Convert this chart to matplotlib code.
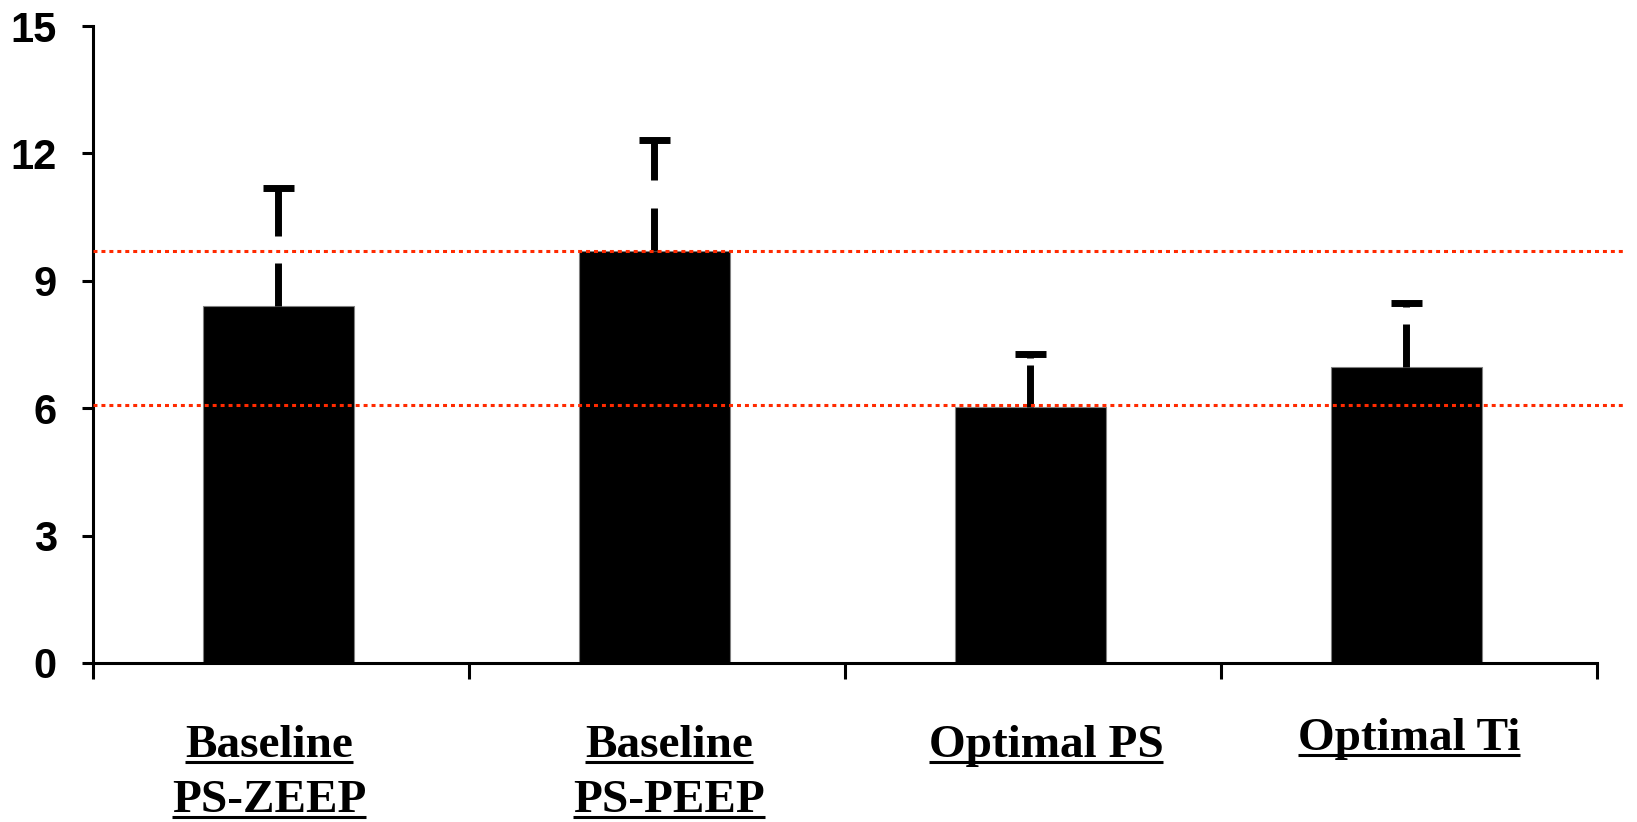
import matplotlib
matplotlib.use('Agg')
import matplotlib.pyplot as plt
from matplotlib.transforms import IdentityTransform
from matplotlib.lines import Line2D
import numpy as np

# ---- data ----
categories = ["Baseline\nPS-ZEEP", "Baseline\nPS-PEEP", "Optimal PS", "Optimal Ti"]
means = [8.40, 9.70, 6.02, 6.98]
errors = [2.78, 2.61, 1.25, 1.49]
err_gaps = [(9.42, 10.06), (10.72, 11.38), (7.02, 7.19), (7.98, 8.39)]
ref_lines = [9.69, 6.08]
yticks = [0, 3, 6, 9, 12, 15]

# ---- layout ----
W, H = 1637, 822
fig = plt.figure(figsize=(W / 100, H / 100), dpi=100)
ax = fig.add_axes([93 / W, 1 - 663 / H, (1597 - 93) / W, (663 - 26) / H])

x = np.arange(len(categories)) - 0.007
ax.bar(x, means, width=0.40, color='black', edgecolor='#808080',
       linewidth=0.8, zorder=2)

for xi, m, e, (g0, g1) in zip(x, means, errors, err_gaps):
    top = m + e
    ax.vlines(xi, m, g0, color='black', lw=5.0, zorder=3, capstyle='butt')
    ax.vlines(xi, g1, top, color='black', lw=5.0, zorder=3, capstyle='butt')
    ax.hlines(top, xi - 0.041, xi + 0.041, color='black', lw=5.0, zorder=3,
              capstyle='butt')

for yv in ref_lines:
    ax.plot([-0.5, 3.57], [yv, yv], color='#ff2a00', lw=2.2,
            linestyle=(0, (1.3, 1.3)), dash_capstyle='butt', clip_on=False,
            zorder=5)

ax.set_xlim(-0.5, 3.5)
ax.set_ylim(0, 15)
for s in ['top', 'right']:
    ax.spines[s].set_visible(False)
for s in ['left', 'bottom']:
    ax.spines[s].set_linewidth(2.2)
    ax.spines[s].set_color('black')

ax.set_yticks(yticks)
ax.set_yticklabels([str(t) for t in yticks], fontfamily='Liberation Sans',
                   fontweight='bold', fontsize=30)
ax.tick_params(axis='y', length=8, width=2.2, pad=18, color='black')
ax.set_xticks([])
ax.set_xticks(np.arange(-0.5, len(categories), 1), minor=True)
ax.tick_params(axis='x', which='minor', length=11.5, width=2.2,
               direction='out', color='black')

# ---- category labels (underlined) ----
label_dx = [-12, 12, 13, 0]
label_base = [757, 757, 757, 750]
line_step = 55
texts = []
for i, cat in enumerate(categories):
    cx = 93 + (i + 0.5) * (1597 - 93) / len(categories) + label_dx[i]
    for j, line in enumerate(cat.split('\n')):
        yb = H - (label_base[i] + j * line_step)
        t = fig.text(cx, yb, line, transform=IdentityTransform(),
                     ha='center', va='baseline', fontfamily='Liberation Serif',
                     fontweight='bold', fontsize=34)
        texts.append((t, yb))

fig.canvas.draw()
r = fig.canvas.get_renderer()
for t, yb in texts:
    bb = t.get_window_extent(r)
    fig.add_artist(Line2D([bb.x0, bb.x1], [yb - 5, yb - 5],
                          transform=IdentityTransform(), color='black',
                          lw=2.2, solid_capstyle='butt'))

fig.savefig('out.png', dpi=100)
